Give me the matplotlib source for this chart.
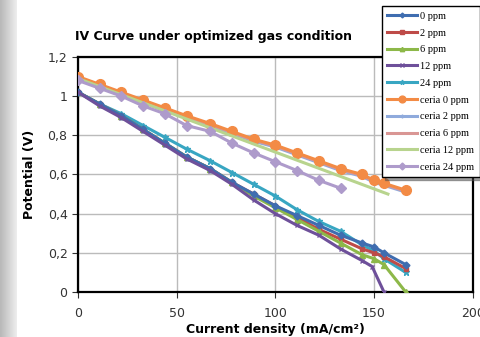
import numpy as np
import matplotlib
matplotlib.use("Agg")
import matplotlib.pyplot as plt

# current density (mA/cm2)
x_full = [0, 11, 22, 33, 44, 55, 67, 78, 89, 100, 111, 122, 133, 144, 150, 155, 166]
x_12 = [0, 11, 22, 33, 44, 55, 67, 78, 89, 100, 111, 122, 133, 144, 149, 155]
x_c24 = [0, 11, 22, 33, 44, 55, 67, 78, 89, 100, 111, 122, 133]
x_c12 = [0, 157]

ppm0 = [1.02, 0.96, 0.90, 0.83, 0.76, 0.69, 0.63, 0.56, 0.50, 0.44, 0.39, 0.34, 0.29, 0.25, 0.23, 0.20, 0.14]
ppm2 = [1.02, 0.96, 0.90, 0.83, 0.76, 0.69, 0.63, 0.56, 0.50, 0.44, 0.38, 0.32, 0.27, 0.22, 0.20, 0.18, 0.12]
ppm6 = [1.02, 0.96, 0.90, 0.83, 0.76, 0.69, 0.63, 0.56, 0.49, 0.43, 0.37, 0.31, 0.25, 0.19, 0.17, 0.14, 0.0]
ppm12 = [1.02, 0.95, 0.89, 0.82, 0.75, 0.68, 0.62, 0.55, 0.47, 0.40, 0.34, 0.29, 0.22, 0.16, 0.13, 0.0]
ppm24 = [1.02, 0.96, 0.91, 0.85, 0.79, 0.73, 0.67, 0.61, 0.55, 0.49, 0.42, 0.36, 0.31, 0.24, 0.21, 0.17, 0.10]
ceria0 = [1.10, 1.06, 1.02, 0.98, 0.94, 0.90, 0.86, 0.82, 0.78, 0.75, 0.71, 0.67, 0.63, 0.60, 0.57, 0.555, 0.52]
ceria2 = [1.09, 1.05, 1.01, 0.97, 0.93, 0.89, 0.85, 0.81, 0.77, 0.74, 0.70, 0.66, 0.62, 0.59, 0.56, 0.545, 0.51]
ceria6 = [1.095, 1.055, 1.015, 0.975, 0.935, 0.895, 0.855, 0.815, 0.775, 0.745, 0.705, 0.665, 0.625, 0.595, 0.565, 0.55, 0.515]
ceria12 = [1.09, 0.50]
ceria24 = [1.08, 1.04, 1.00, 0.95, 0.91, 0.85, 0.82, 0.76, 0.71, 0.665, 0.62, 0.57, 0.53]

fig = plt.figure(figsize=(4.81, 3.37), dpi=100)

# grey band on the left edge of the screenshot
band = fig.add_axes([0, 0, 0.035, 1])
band.imshow(np.linspace(0.72, 0.93, 50).reshape(1, -1), cmap="gray", aspect="auto",
            vmin=0, vmax=1, extent=[0, 1, 0, 1])
band.axis("off")

ax = fig.add_axes([0.162, 0.1335, 0.821, 0.6975])

ax.plot(x_full, ceria2, color="#8FAADC", lw=2.2, marker="+", ms=5, label="ceria 2 ppm", zorder=2)
ax.plot(x_full, ceria6, color="#D99694", lw=2.2, label="ceria 6 ppm", zorder=2)
ax.plot(x_full, ceria0, color="#F38B45", lw=2.2, marker="o", ms=7, label="ceria 0 ppm", zorder=3)
ax.plot(x_c12, ceria12, color="#B8D48E", lw=2.2, label="ceria 12 ppm", zorder=3)
ax.plot(x_c24, ceria24, color="#AE9BCB", lw=2.2, marker="D", ms=5, label="ceria 24 ppm", zorder=3)

ax.plot(x_full, ppm24, color="#38A6C2", lw=2.2, marker="*", ms=5, label="24 ppm", zorder=3)
ax.plot(x_full, ppm2, color="#BE4B48", lw=2.2, marker="s", ms=3.5, label="2 ppm", zorder=4)
ax.plot(x_full, ppm6, color="#8DB849", lw=2.2, marker="^", ms=4.5, label="6 ppm", zorder=4)
ax.plot(x_full, ppm0, color="#3F6DB0", lw=2.2, marker="D", ms=3.5, label="0 ppm", zorder=5)
ax.plot(x_12, ppm12, color="#6E509A", lw=2.2, marker="x", ms=3.5, label="12 ppm", zorder=5)

ax.set_xlim(0, 200)
ax.set_ylim(0, 1.2)
ax.set_xticks([0, 50, 100, 150, 200])
ax.set_yticks([0, 0.2, 0.4, 0.6, 0.8, 1.0, 1.2])
ax.set_yticklabels(["0", "0,2", "0,4", "0,6", "0,8", "1", "1,2"])
ax.grid(True, color="#BBBBBB", lw=1)
ax.set_axisbelow(True)
for s in ax.spines.values():
    s.set_linewidth(1.6)
    s.set_color("black")
ax.tick_params(axis="both", labelsize=9, colors="#333333", length=4)
ax.tick_params(axis="x", pad=7)

ax.set_xlabel("Current density (mA/cm²)", fontsize=9, fontweight="bold", labelpad=2)
ax.set_ylabel("Potential (V)", fontsize=9, fontweight="bold", labelpad=8)
fig.text(0.155, 0.88, "IV Curve under optimized gas condition", fontsize=9, fontweight="bold")

handles, labels = ax.get_legend_handles_labels()
order = ["0 ppm", "2 ppm", "6 ppm", "12 ppm", "24 ppm",
         "ceria 0 ppm", "ceria 2 ppm", "ceria 6 ppm", "ceria 12 ppm", "ceria 24 ppm"]
hmap = dict(zip(labels, handles))
leg = fig.legend([hmap[k] for k in order], order, loc="upper left",
                 bbox_to_anchor=(0.783, 0.997), prop={"family": "Liberation Serif", "size": 7.5},
                 frameon=True, fancybox=False, shadow=True, handlelength=2.9,
                 labelspacing=0.72, borderpad=0.5, handletextpad=0.3, markerscale=0.7)
leg.get_frame().set_edgecolor("black")
leg.get_frame().set_linewidth(1)

fig.savefig("out.png", dpi=100)
